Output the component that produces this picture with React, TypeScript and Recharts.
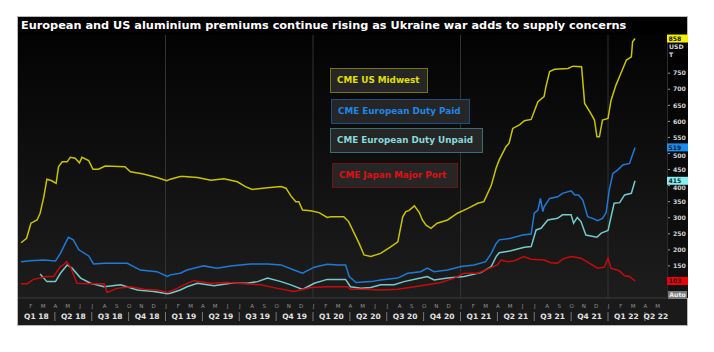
import React from "react";
import { LineChart, Line, XAxis, YAxis, ReferenceLine } from "recharts";

// x values are months since Jan 2018 (0 = 1 Jan 2018)
const monthLetters = ["J", "F", "M", "A", "M", "J", "J", "A", "S", "O", "N", "D"];
const quarterLabels = [
  "Q1 18", "Q2 18", "Q3 18", "Q4 18",
  "Q1 19", "Q2 19", "Q3 19", "Q4 19",
  "Q1 20", "Q2 20", "Q3 20", "Q4 20",
  "Q1 21", "Q2 21", "Q3 21", "Q4 21",
  "Q1 22", "Q2 22",
];
const yTicks = [150, 200, 250, 300, 350, 400, 450, 500, 550, 600, 650, 700, 750];
const X_END = 52.8;

const midwestMonths = [
  0.25, 0.7, 1.05, 1.55, 1.8, 2.1, 2.35, 2.75, 3.1, 3.3, 3.6, 4.0, 4.25, 4.65, 5.0, 5.2, 5.75, 6.1, 6.55, 7.1,
  8.7, 9.15, 10.2, 11.3, 12.1, 12.4, 13.2, 13.5, 14.6, 15.7, 16.75, 17.85, 18.5, 19.05, 20.3, 21.4, 21.8, 22.2,
  22.6, 22.85, 23.15, 23.8, 24.5, 25.15, 25.45, 26.5, 26.9, 27.35, 27.75, 28.15, 28.7, 29.5, 30.35, 30.9, 31.3,
  31.55, 31.8, 32.25, 32.65, 32.9, 33.2, 33.6, 34.1, 34.95, 35.75, 36.6, 37.4, 37.9, 38.5, 38.9, 39.15, 39.7,
  39.95, 40.25, 40.8, 41.2, 41.75, 42.3, 42.8, 42.95, 43.25, 43.65, 44.75, 45.15, 45.85, 46.1, 46.6, 46.9, 47.1,
  47.3, 47.55, 48.0, 48.25, 48.65, 49.05, 49.5, 49.9, 50.0, 50.2,
];
const midwestValues = [
  222, 236, 283, 293, 314, 365, 420, 415, 407, 459, 474, 474, 488, 485, 471, 488, 478, 451, 451, 461,
  459, 443, 436, 425, 415, 420, 428, 428, 425, 417, 421, 412, 397, 388, 393, 397, 392, 368,
  350, 350, 324, 322, 316, 301, 303, 303, 288, 252, 220, 184, 179, 189, 210, 225, 303,
  319, 322, 337, 316, 293, 277, 267, 283, 293, 314, 329, 345, 350, 400, 455, 480, 521,
  532, 578, 589, 602, 606, 661, 677, 708, 755, 762, 765, 772, 770, 656, 625, 604, 552,
  552, 604, 609, 666, 713, 750, 791, 801, 848, 858,
];

const dutyPaidMonths = [
  0.25, 1.0, 2.1, 3.05, 3.45, 3.85, 4.1, 4.5, 4.95, 5.75, 6.15, 7.0, 8.9, 9.95, 11.3, 12.15, 12.4, 13.2, 13.75,
  15.1, 16.2, 17.3, 18.9, 20.3, 21.4, 22.45, 23.15, 24.1, 25.15, 26.0, 26.65, 26.95, 27.5, 28.7, 29.5, 30.9,
  31.7, 32.75, 33.3, 33.85, 34.95, 36.05, 37.1, 38.05, 38.5, 38.9, 39.15, 40.1, 41.05, 41.75, 42.0, 42.3, 42.5,
  42.7, 42.8, 43.25, 43.9, 44.3, 45.0, 45.3, 45.6, 45.95, 46.35, 46.75, 47.15, 47.55, 47.85, 48.1, 48.4, 48.8,
  49.2, 49.75, 50.2,
];
const dutyPaidValues = [
  163, 166, 168, 165, 189, 220, 239, 231, 200, 181, 156, 158, 158, 137, 132, 117, 122, 127, 137,
  150, 143, 150, 156, 156, 153, 137, 127, 146, 155, 153, 153, 117, 98, 101, 106, 112,
  127, 132, 143, 132, 137, 148, 153, 163, 189, 220, 231, 236, 246, 249, 314, 324, 360,
  319, 334, 360, 365, 376, 384, 371, 371, 355, 303, 298, 291, 298, 316, 386, 438, 449,
  464, 469, 519,
];

const dutyUnpaidMonths = [
  1.8, 2.35, 3.05, 3.45, 4.0, 4.4, 5.1, 5.9, 7.0, 8.35, 9.7, 11.05, 12.15, 12.4, 13.2, 13.75, 14.6, 15.95,
  17.3, 18.65, 19.5, 20.3, 21.4, 22.2, 23.15, 24.1, 25.15, 26.65, 27.05, 27.9, 28.7, 29.5, 30.6, 31.4, 32.75,
  33.3, 33.85, 34.95, 36.3, 37.65, 38.5, 38.9, 39.15, 40.1, 41.2, 41.75, 42.15, 42.55, 43.1, 43.9, 44.3, 45.0,
  45.2, 45.5, 45.8, 46.2, 46.6, 47.1, 47.45, 48.0, 48.25, 48.5, 48.95, 49.35, 49.9, 50.2,
];
const dutyUnpaidValues = [
  125, 101, 101, 127, 153, 143, 112, 96, 85, 91, 75, 70, 63, 65, 75, 85, 96, 88,
  96, 96, 101, 112, 101, 91, 77, 96, 108, 108, 85, 80, 83, 91, 91, 101, 112,
  117, 106, 112, 117, 129, 148, 179, 191, 197, 208, 210, 262, 267, 293, 298, 309, 309,
  283, 301, 288, 246, 243, 239, 252, 260, 303, 345, 347, 371, 376, 415,
];

const japanMonths = [
  0.25, 0.75, 1.25, 1.8, 2.35, 2.9, 3.45, 3.7, 3.95, 4.25, 4.8, 5.9, 7.0, 7.25, 8.05, 9.15, 10.25, 11.3, 12.15,
  12.95, 13.5, 14.3, 15.7, 17.0, 18.4, 19.75, 21.1, 22.45, 23.0, 23.8, 25.2, 26.8, 27.05, 28.15, 29.5, 30.9,
  32.25, 33.3, 34.4, 35.5, 36.3, 37.4, 38.2, 39.0, 39.3, 39.85, 40.4, 41.15, 41.75, 42.8, 43.35, 43.9, 44.3,
  45.0, 45.8, 46.5, 47.15, 47.7, 48.0, 48.25, 48.9, 49.35, 49.75, 50.2,
];
const japanValues = [
  94, 94, 108, 112, 117, 117, 148, 153, 163, 148, 96, 94, 94, 67, 80, 85, 77, 75, 67,
  80, 91, 104, 96, 98, 94, 91, 80, 70, 75, 83, 85, 85, 77, 77, 75, 77,
  85, 91, 98, 112, 127, 127, 140, 153, 168, 163, 166, 179, 171, 168, 160, 158, 171,
  179, 174, 158, 143, 146, 174, 143, 135, 119, 117, 103,
];

const toPoints = (ms: number[], vs: number[]) => ms.map((m, i) => ({ m, v: vs[i] }));

const series = [
  { name: "CME US Midwest", color: "#c8c400", text: "#e2e000", border: "#77740e", flag: "#f2f200", points: toPoints(midwestMonths, midwestValues) },
  { name: "CME European Duty Paid", color: "#1f7ad6", text: "#1f86e6", border: "#1a4f86", flag: "#1a8cf0", points: toPoints(dutyPaidMonths, dutyPaidValues) },
  { name: "CME European Duty Unpaid", color: "#74caca", text: "#86dada", border: "#3d6e6e", flag: "#86eeee", points: toPoints(dutyUnpaidMonths, dutyUnpaidValues) },
  { name: "CME Japan Major Port", color: "#c80a0a", text: "#e01010", border: "#6e1414", flag: "#ee0000", points: toPoints(japanMonths, japanValues) },
];

const lastValues = series.map((s) => s.points[s.points.length - 1].v);

const legendBoxes = [
  { left: 330, top: 68, width: 98, height: 25 },
  { left: 331, top: 99, width: 139, height: 25 },
  { left: 330, top: 128, width: 153, height: 25 },
  { left: 332, top: 163, width: 126, height: 25 },
];

const monthTicks = Array.from({ length: 52 }, (_, i) => i + 1);
const quarterTicks = quarterLabels.map((_, i) => Math.min(i * 3 + 1.5, (i * 3 + X_END) / 2));

const MonthTick = (props: any) => {
  const { x, y, payload } = props;
  const m = payload.value;
  return (
    <g>
      <text x={x + 0.5} y={y + 8} textAnchor="middle" fontSize={5.5} fill="#949494" fontFamily="DejaVu Sans">
        {monthLetters[m % 12]}
      </text>
      {m % 3 === 0 && <line x1={x} x2={x} y1={y + 12} y2={y + 21} stroke="#777" strokeWidth={1} />}
    </g>
  );
};

const QuarterTick = (props: any) => {
  const { x, y, index } = props;
  return (
    <text x={x} y={y + 7} textAnchor="middle" fontSize={7.5} fontWeight="bold" fill="#e2e2e2" fontFamily="DejaVu Sans">
      {quarterLabels[index]}
    </text>
  );
};

const YTick = (props: any) => {
  const { x, y, payload } = props;
  // a label sitting just under a value flag peeks out below it
  const covered = lastValues.some((v) => v - payload.value > 0 && v - payload.value < 20);
  return (
    <text x={x + 1} y={y + (covered ? 4.6 : 2.2)} fontSize={6.2} fontWeight="bold" fill="#cfcfcf" fontFamily="DejaVu Sans">
      {payload.value}
    </text>
  );
};

// last-value flags, drawn by a second right axis so they sit above the tick labels
const FlagTick = (props: any) => {
  const { x, y, payload } = props;
  const i = lastValues.indexOf(payload.value);
  const bg = i >= 0 ? series[i].flag : "#888";
  return (
    <g>
      <rect x={x} y={y - 4} width={21} height={8} fill={bg} />
      <text x={x + 1.5} y={y + 2.2} fontSize={6.2} fontWeight="bold" fill="#1a1a30" fontFamily="DejaVu Sans">
        {payload.value}
      </text>
    </g>
  );
};

export default function App() {
  return (
    <div style={{ position: "absolute", left: 0, top: 0, width: 714, height: 352, background: "#fff" }}>
      <div style={{ position: "absolute", left: 17, top: 16, width: 671, height: 310, boxSizing: "border-box", border: "1px solid #b8b8b8", background: "#1a1a1a" }} />
      <div style={{ position: "absolute", left: 18, top: 17, width: 669, height: 18, background: "#000" }} />
      <div style={{ position: "absolute", left: 18, top: 35, width: 649, height: 263, background: "linear-gradient(#030303, #1d1d1d)" }} />
      <div style={{ position: "absolute", left: 667, top: 35, width: 20, height: 263, background: "linear-gradient(#000, #121212)", borderLeft: "1px solid #2c2c2c" }} />
      <div style={{ position: "absolute", left: 21, top: 17, height: 18, lineHeight: "18px", color: "#fff", fontFamily: "DejaVu Sans", fontWeight: "bold", fontSize: 11.3, whiteSpace: "nowrap" }}>
        European and US aluminium premiums continue rising as Ukraine war adds to supply concerns
      </div>
      <div style={{ position: "absolute", left: 0, top: 0 }}>
        <LineChart width={714} height={352} margin={{ top: 35, right: 25, bottom: 26, left: 18 }}>
          <XAxis
            xAxisId="m"
            dataKey="m"
            type="number"
            domain={[0, X_END]}
            allowDataOverflow
            ticks={monthTicks}
            interval={0}
            tickSize={0}
            tickLine={false}
            axisLine={{ stroke: "#3c3c3c" }}
            tick={<MonthTick />}
            height={12}
          />
          <XAxis
            xAxisId="q"
            dataKey="m"
            type="number"
            domain={[0, X_END]}
            allowDataOverflow
            ticks={quarterTicks}
            interval={0}
            tickSize={0}
            tickLine={false}
            axisLine={false}
            tick={<QuarterTick />}
            height={16}
          />
          <YAxis
            yAxisId="r"
            orientation="right"
            type="number"
            domain={[50, 869]}
            allowDataOverflow
            ticks={yTicks}
            interval={0}
            width={21}
            tickSize={2}
            tickLine={{ stroke: "#9a9a9a" }}
            axisLine={false}
            tick={<YTick />}
          />
          <YAxis
            yAxisId="f"
            orientation="right"
            type="number"
            domain={[50, 869]}
            allowDataOverflow
            ticks={lastValues}
            interval={0}
            width={1}
            tickSize={0}
            tickMargin={0}
            tickLine={false}
            axisLine={false}
            tick={<FlagTick />}
          />
          {[12, 24, 36, 48].map((m) => (
            <ReferenceLine key={m} xAxisId="m" yAxisId="r" x={m} stroke="#333" strokeWidth={1} />
          ))}
          {series.map((s) => (
            <Line
              key={s.name}
              xAxisId="m"
              yAxisId="r"
              data={s.points}
              dataKey="v"
              type="linear"
              stroke={s.color}
              strokeWidth={1.5}
              dot={false}
              isAnimationActive={false}
            />
          ))}
        </LineChart>
      </div>
      <div style={{ position: "absolute", left: 669, top: 43, fontFamily: "DejaVu Sans", fontWeight: "bold", fontSize: 6.2, color: "#d8d8d8", lineHeight: "8px" }}>
        USD
        <br />T
      </div>
      <div style={{ position: "absolute", left: 668, top: 291, width: 19, height: 8, background: "#7a7a7a", color: "#eee", fontFamily: "DejaVu Sans", fontWeight: "bold", fontSize: 6.2, lineHeight: "8px", textAlign: "center" }}>
        Auto
      </div>
      {series.map((s, i) => (
        <div
          key={s.name}
          style={{
            position: "absolute",
            left: legendBoxes[i].left,
            top: legendBoxes[i].top,
            width: legendBoxes[i].width,
            height: legendBoxes[i].height,
            boxSizing: "border-box",
            border: `1px solid ${s.border}`,
            background: "#262626",
            color: s.text,
            fontFamily: "DejaVu Sans",
            fontWeight: "bold",
            fontSize: 8.8,
            lineHeight: "23px",
            paddingLeft: 6,
            whiteSpace: "nowrap",
          }}
        >
          {s.name}
        </div>
      ))}
    </div>
  );
}
